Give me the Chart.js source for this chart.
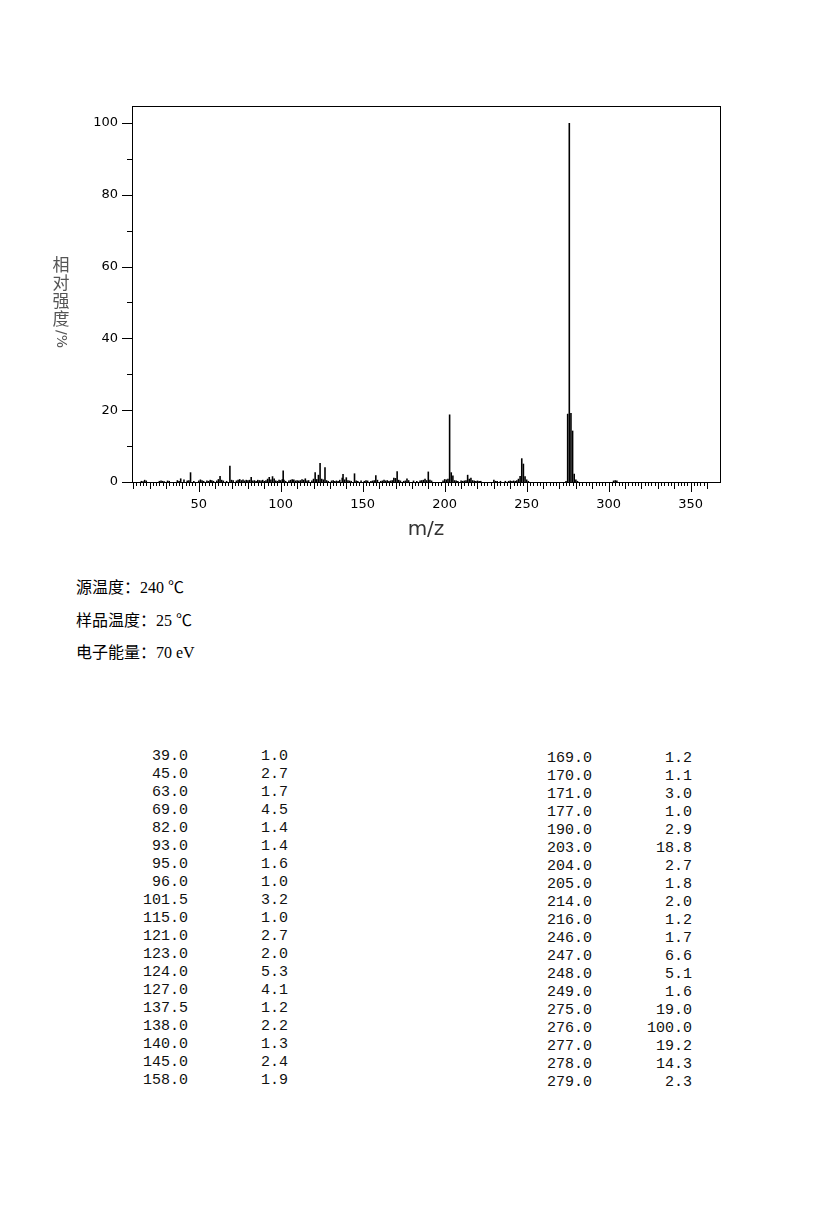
<!DOCTYPE html>
<html>
<head>
<meta charset="utf-8">
<script src="https://cdn.jsdelivr.net/npm/chart.js@4.4.0/dist/chart.umd.min.js"></script>
<style>
body { margin: 0; background: #fff; width: 819px; height: 1219px; position: relative; overflow: hidden; }
#wrap { position: absolute; left: 0; top: 0; width: 819px; height: 560px; }
.info { position: absolute; left: 76px; font: 16px "Liberation Serif", "Noto Sans CJK SC"; color: #000; line-height: 20px; white-space: pre; }
.col { position: absolute; width: 88px; font: 15px "Liberation Mono", monospace; line-height: 18px; text-align: right; white-space: pre; color: #111; }
</style>
</head>
<body>
<div id="wrap"><canvas id="ms" width="819" height="560"></canvas></div>

<div class="info" style="top:578px">源温度：240 ℃</div>
<div class="info" style="top:611px">样品温度：25 ℃</div>
<div class="info" style="top:643px">电子能量：70 eV</div>

<div class="col" id="mzL" style="left:100px;top:748px"></div>
<div class="col" id="inL" style="left:200px;top:748px"></div>
<div class="col" id="mzR" style="left:504px;top:750px"></div>
<div class="col" id="inR" style="left:604px;top:750px"></div>

<script>
// peaks listed in the table (>= 1%)
var peakMz = [39, 45, 63, 69, 82, 93, 95, 96, 101.5, 115, 121, 123, 124, 127, 137.5, 138, 140, 145, 158,
  169, 170, 171, 177, 190, 203, 204, 205, 214, 216, 246, 247, 248, 249, 275, 276, 277, 278, 279];
var peakInt = [1.0, 2.7, 1.7, 4.5, 1.4, 1.4, 1.6, 1.0, 3.2, 1.0, 2.7, 2.0, 5.3, 4.1, 1.2, 2.2, 1.3, 2.4, 1.9,
  1.2, 1.1, 3.0, 1.0, 2.9, 18.8, 2.7, 1.8, 2.0, 1.2, 1.7, 6.6, 5.1, 1.6, 19.0, 100.0, 19.2, 14.3, 2.3];

// small peaks (< 1%)
var minorMz = [15, 16, 17, 18, 26, 27, 28, 29, 31, 32, 37, 38, 41, 43, 44, 47, 50, 51, 52, 53, 55, 56, 57, 58, 59,
  61, 62, 64, 65, 67, 70, 71, 73, 74, 75, 76, 77, 78, 79, 80, 81, 83, 84, 85, 86, 87, 88, 89, 90, 91, 92, 94,
  97, 98, 99, 100, 101, 102, 103, 105, 106, 107, 108, 109, 110, 111, 112, 113, 114, 116, 117, 119, 120, 122,
  125, 126, 128, 129, 131, 132, 133, 134, 135, 136, 139, 141, 142, 143, 146, 147, 149, 151, 152, 153, 155,
  156, 157, 159, 161, 162, 163, 164, 165, 166, 167, 168, 172, 173, 175, 176, 178, 181, 183, 185, 186, 187,
  188, 189, 191, 192, 199, 200, 201, 202, 206, 207, 208, 210, 211, 212, 213, 215, 217, 218, 219, 220, 221,
  222, 230, 231, 232, 234, 237, 239, 240, 241, 242, 243, 244, 245, 250, 251, 274, 280, 281, 303, 304, 305];
var minorInt = [0.3, 0.2, 0.6, 0.4, 0.3, 0.4, 0.3, 0.2, 0.4, 0.3, 0.5, 0.3, 0.7, 0.4, 0.5, 0.3, 0.4, 0.7, 0.5, 0.3, 0.4, 0.3, 0.6, 0.5, 0.3,
  0.4, 0.8, 0.6, 0.4, 0.3, 0.6, 0.5, 0.4, 0.6, 0.8, 0.5, 0.7, 0.4, 0.6, 0.5, 0.6, 0.4, 0.5, 0.3, 0.6, 0.5, 0.4, 0.6, 0.3, 0.5, 0.9, 0.7,
  0.4, 0.3, 0.6, 0.5, 0.8, 0.6, 0.3, 0.4, 0.6, 0.8, 0.7, 0.4, 0.5, 0.4, 0.5, 0.8, 0.6, 0.4, 0.5, 0.4, 0.9, 0.8,
  0.9, 0.7, 0.5, 0.3, 0.4, 0.5, 0.3, 0.4, 0.3, 0.6, 0.7, 0.5, 0.4, 0.3, 0.4, 0.3, 0.4, 0.3, 0.5, 0.4, 0.3,
  0.4, 0.5, 0.6, 0.3, 0.4, 0.6, 0.4, 0.5, 0.3, 0.4, 0.5, 0.6, 0.4, 0.3, 0.4, 0.5, 0.4, 0.3, 0.4, 0.5, 0.6,
  0.9, 0.5, 0.6, 0.4, 0.4, 0.8, 0.7, 0.9, 0.5, 0.4, 0.3, 0.4, 0.3, 0.4, 0.5, 0.9, 0.5, 0.4, 0.3, 0.4, 0.3,
  0.3, 0.6, 0.3, 0.3, 0.3, 0.3, 0.3, 0.4, 0.3, 0.4, 0.3, 0.5, 0.9, 0.7, 0.3, 0.3, 0.7, 0.3, 0.4, 0.5, 0.4];

var xTickLabels = [50, 100, 150, 200, 250, 300, 350];
var yTickLabels = [0, 20, 40, 60, 80, 100];

// table under the plot
function fillCol(id, arr) {
  document.getElementById(id).textContent = arr.map(function(v) { return v.toFixed(1); }).join('\n');
}
var half = 19;
fillCol('mzL', peakMz.slice(0, half));
fillCol('inL', peakInt.slice(0, half));
fillCol('mzR', peakMz.slice(half));
fillCol('inR', peakInt.slice(half));

var points = [];
peakMz.forEach(function(m, i) { points.push({x: m, y: peakInt[i]}); });
minorMz.forEach(function(m, i) { points.push({x: m, y: minorInt[i]}); });

// frame, tick marks and axis titles
var decor = {
  id: 'decor',
  afterDraw: function(chart) {
    var ctx = chart.ctx, a = chart.chartArea;
    var xs = chart.scales.x, ys = chart.scales.y;
    ctx.save();
    ctx.strokeStyle = '#000';
    ctx.lineWidth = 1;
    ctx.strokeRect(a.left + 0.5, a.top + 0.5, a.right - a.left, a.bottom - a.top);

    ctx.beginPath();
    for (var m = 10; m <= 360; m += 2) {
      var px = Math.round(xs.getPixelForValue(m)) + 0.5;
      var len = m % 50 === 0 ? 10 : (m % 10 === 0 ? 7 : 4);
      ctx.moveTo(px, a.bottom);
      ctx.lineTo(px, a.bottom + len);
    }
    for (var v = 0; v <= 100; v += 10) {
      var py = Math.round(ys.getPixelForValue(v)) + 0.5;
      var l2 = v % 20 === 0 ? 10 : 5;
      ctx.moveTo(a.left, py);
      ctx.lineTo(a.left - l2, py);
    }
    ctx.stroke();

    // vertical y title, characters upright
    ctx.fillStyle = '#555';
    ctx.font = '17px "Noto Sans CJK SC"';
    ctx.textAlign = 'center';
    ctx.textBaseline = 'middle';
    var chars = ['相', '对', '强', '度'];
    chars.forEach(function(c, i) { ctx.fillText(c, 61, 265 + i * 17.7); });
    ctx.save();
    ctx.translate(61, 339);
    ctx.rotate(Math.PI / 2);
    ctx.font = '14px "DejaVu Sans"';
    ctx.fillText('/%', 0, 0);
    ctx.restore();

    ctx.fillStyle = '#333';
    ctx.font = '20px "DejaVu Sans"';
    ctx.fillText('m/z', 426, 530);
    ctx.restore();
  }
};

new Chart(document.getElementById('ms').getContext('2d'), {
  type: 'bar',
  data: {
    datasets: [{
      data: points,
      backgroundColor: '#000',
      borderWidth: 0,
      inflateAmount: 0,
      barThickness: 1.6,
      grouped: false
    }]
  },
  options: {
    responsive: false,
    animation: false,
    layout: { padding: { top: 106, right: 99, left: 0, bottom: 0 } },
    plugins: { legend: { display: false }, tooltip: { enabled: false } },
    scales: {
      x: {
        type: 'linear',
        min: 9.3,
        max: 367.9,
        offset: false,
        grid: { display: false, drawTicks: false },
        border: { display: false },
        afterBuildTicks: function(s) { s.ticks = xTickLabels.map(function(v) { return {value: v}; }); },
        afterFit: function(s) { s.height = 78; },
        ticks: { autoSkip: false, maxRotation: 0, padding: 15, color: '#000', font: { family: 'DejaVu Sans', size: 13 } }
      },
      y: {
        min: 0,
        max: 104.7,
        grid: { display: false, drawTicks: false },
        border: { display: false },
        afterBuildTicks: function(s) { s.ticks = yTickLabels.map(function(v) { return {value: v}; }); },
        afterFit: function(s) { s.width = 132; },
        ticks: { padding: 14, color: '#000', font: { family: 'DejaVu Sans', size: 13 } }
      }
    }
  },
  plugins: [decor]
});
</script>
</body>
</html>
